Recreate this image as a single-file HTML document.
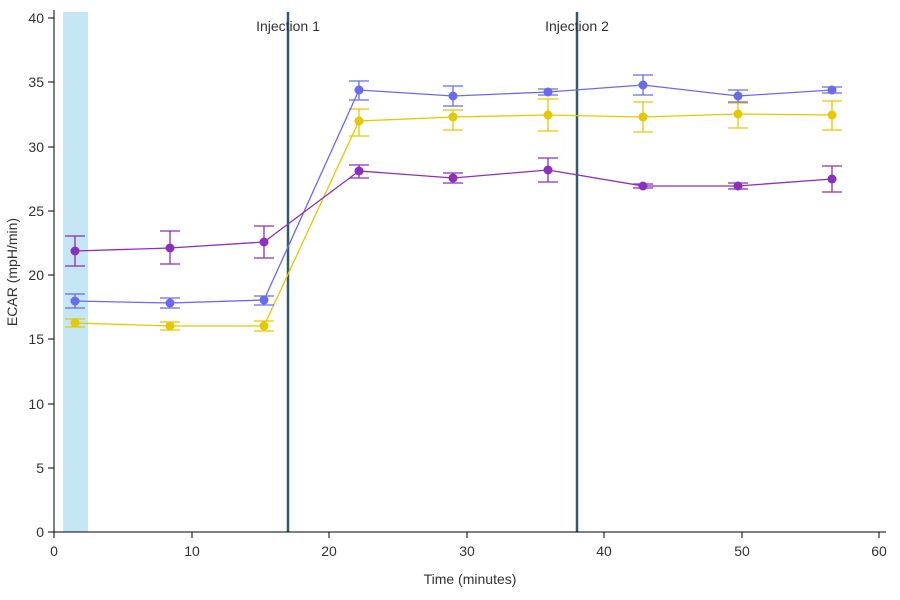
<!DOCTYPE html>
<html><head><meta charset="utf-8"><style>body{margin:0;background:#fff}svg{display:block;font-family:"Liberation Sans",sans-serif}</style></head><body>
<svg width="900" height="600" viewBox="0 0 900 600">
<rect x="63" y="12" width="25" height="520" fill="#c5e6f4"/>
<line x1="288" y1="12" x2="288" y2="532" stroke="#2f5a6a" stroke-width="2.5"/>
<line x1="577" y1="12" x2="577" y2="532" stroke="#2f5a6a" stroke-width="2.5"/>
<text x="288" y="31" font-size="14" fill="#333" text-anchor="middle">Injection 1</text>
<text x="577" y="31" font-size="14" fill="#333" text-anchor="middle">Injection 2</text>
<g stroke="#000" stroke-width="1" fill="none">
<line x1="54" y1="10" x2="54" y2="532"/><line x1="54" y1="532" x2="886" y2="532"/>
<line x1="48" y1="18" x2="54" y2="18"/><line x1="48" y1="82" x2="54" y2="82"/><line x1="48" y1="147" x2="54" y2="147"/><line x1="48" y1="211" x2="54" y2="211"/><line x1="48" y1="275" x2="54" y2="275"/><line x1="48" y1="339" x2="54" y2="339"/><line x1="48" y1="404" x2="54" y2="404"/><line x1="48" y1="468" x2="54" y2="468"/><line x1="48" y1="532" x2="54" y2="532"/>
<line x1="54" y1="532" x2="54" y2="538"/><line x1="192" y1="532" x2="192" y2="538"/><line x1="329" y1="532" x2="329" y2="538"/><line x1="467" y1="532" x2="467" y2="538"/><line x1="604" y1="532" x2="604" y2="538"/><line x1="742" y1="532" x2="742" y2="538"/><line x1="879" y1="532" x2="879" y2="538"/>
</g>
<g font-size="14" fill="#333" text-anchor="end">
<text x="44" y="23">40</text><text x="44" y="87">35</text><text x="44" y="152">30</text><text x="44" y="216">25</text><text x="44" y="280">20</text><text x="44" y="344">15</text><text x="44" y="409">10</text><text x="44" y="473">5</text><text x="44" y="537">0</text>
</g>
<g font-size="14" fill="#333" text-anchor="middle">
<text x="54" y="556">0</text><text x="192" y="556">10</text><text x="329" y="556">20</text><text x="467" y="556">30</text><text x="604" y="556">40</text><text x="742" y="556">50</text><text x="879" y="556">60</text>
<text x="470" y="584">Time (minutes)</text>
<text transform="translate(17,272) rotate(-90)">ECAR (mpH/min)</text>
</g>

<g stroke="#e6c800" stroke-width="1.3" fill="none">
<polyline points="75,323 170,326 264,326 359,121 453,117 548,115 643,117 738,114 832,115"/>
<path d="M75 319V327M65 319H85M65 327H85 M170 322V330M160 322H180M160 330H180 M264 321V331M254 321H274M254 331H274 M359 109V136M349 109H369M349 136H369 M453 110V130M443 110H463M443 130H463 M548 99V131M538 99H558M538 131H558 M643 102V132M633 102H653M633 132H653 M738 103V128M728 103H748M728 128H748 M832 101V130M822 101H842M822 130H842"/>
</g>
<g fill="#e6c800">
<circle cx="75" cy="323" r="4.5"/><circle cx="170" cy="326" r="4.5"/><circle cx="264" cy="326" r="4.5"/><circle cx="359" cy="121" r="4.5"/><circle cx="453" cy="117" r="4.5"/><circle cx="548" cy="115" r="4.5"/><circle cx="643" cy="117" r="4.5"/><circle cx="738" cy="114" r="4.5"/><circle cx="832" cy="115" r="4.5"/>
</g>

<g stroke="#6a6aee" stroke-width="1.3" fill="none">
<polyline points="75,301 170,303 264,300 359,90 453,96 548,92 643,85 738,96 832,90"/>
<path d="M75 294V308M65 294H85M65 308H85 M170 298V308M160 298H180M160 308H180 M264 296V305M254 296H274M254 305H274 M359 81V100M349 81H369M349 100H369 M453 86V106M443 86H463M443 106H463 M548 89V95M538 89H558M538 95H558 M643 75V95M633 75H653M633 95H653 M738 90V102M728 90H748M728 102H748 M832 87V93M822 87H842M822 93H842"/>
</g>
<g fill="#6a6aee">
<circle cx="75" cy="301" r="4.5"/><circle cx="170" cy="303" r="4.5"/><circle cx="264" cy="300" r="4.5"/><circle cx="359" cy="90" r="4.5"/><circle cx="453" cy="96" r="4.5"/><circle cx="548" cy="92" r="4.5"/><circle cx="643" cy="85" r="4.5"/><circle cx="738" cy="96" r="4.5"/><circle cx="832" cy="90" r="4.5"/>
</g>

<g stroke="#8b2fc0" stroke-width="1.3" fill="none">
<polyline points="75,251 170,248 264,242 359,171 453,178 548,170 643,186 738,186 832,179"/>
<path d="M75 236V266M65 236H85M65 266H85 M170 231V264M160 231H180M160 264H180 M264 226V258M254 226H274M254 258H274 M359 165V178M349 165H369M349 178H369 M453 173V183M443 173H463M443 183H463 M548 158V182M538 158H558M538 182H558 M643 184V188M633 184H653M633 188H653 M738 183V189M728 183H748M728 189H748 M832 166V192M822 166H842M822 192H842"/>
</g>
<g fill="#8b2fc0">
<circle cx="75" cy="251" r="4.5"/><circle cx="170" cy="248" r="4.5"/><circle cx="264" cy="242" r="4.5"/><circle cx="359" cy="171" r="4.5"/><circle cx="453" cy="178" r="4.5"/><circle cx="548" cy="170" r="4.5"/><circle cx="643" cy="186" r="4.5"/><circle cx="738" cy="186" r="4.5"/><circle cx="832" cy="179" r="4.5"/>
</g>
</svg>
</body></html>
